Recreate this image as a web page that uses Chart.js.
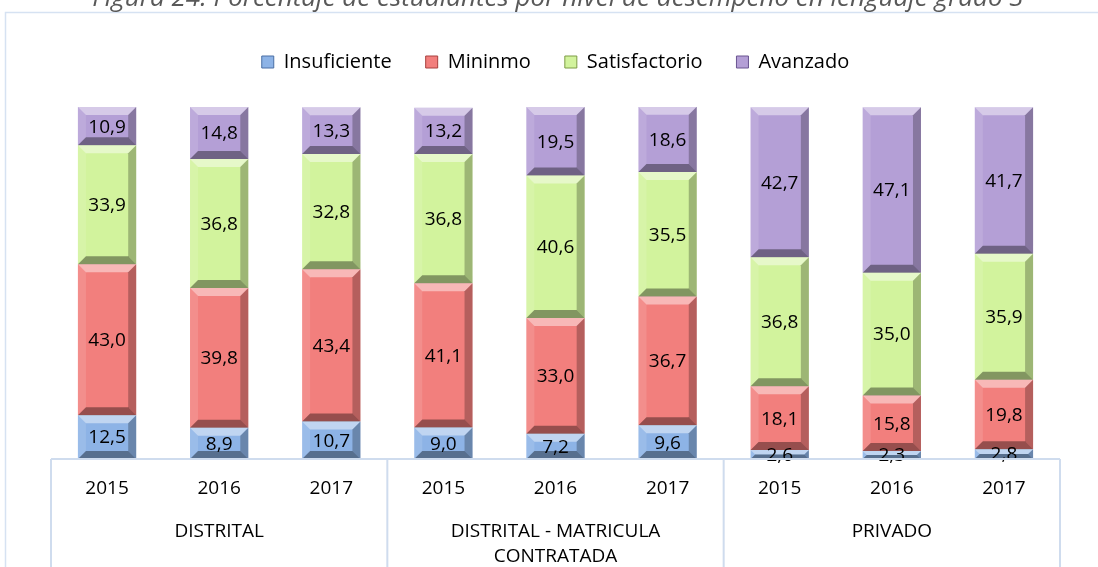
<!DOCTYPE html>
<html>
<head>
<meta charset="utf-8">
<title>Figura 24</title>
<script src="https://cdn.jsdelivr.net/npm/chart.js@4/dist/chart.umd.min.js"></script>
<style>
  html, body { margin: 0; padding: 0; background: #ffffff; }
  #chartBox { width: 1098px; height: 567px; position: relative; }
</style>
</head>
<body>
<div id="chartBox"><canvas id="myChart"></canvas></div>
<script>
// data
const years = ["2015", "2016", "2017", "2015", "2016", "2017", "2015", "2016", "2017"];
const groups = ["DISTRITAL", "DISTRITAL - MATRICULA\nCONTRATADA", "PRIVADO"];
const insuficiente = [12.5, 8.9, 10.7, 9.0, 7.2, 9.6, 2.6, 2.3, 2.8];
const minimo = [43.0, 39.8, 43.4, 41.1, 33.0, 36.7, 18.1, 15.8, 19.8];
const satisfactorio = [33.9, 36.8, 32.8, 36.8, 40.6, 35.5, 36.8, 35.0, 35.9];
const avanzado = [10.9, 14.8, 13.3, 13.2, 19.5, 18.6, 42.7, 47.1, 41.7];

const titleText = "Figura 24. Porcentaje de estudiantes por nivel de desempeño en lenguaje grado 3";
const FONT = "'Open Sans', sans-serif";
const lineBlue = "#cfdcee";

// extra gap below the legend
const legendGap = {
  id: "legendGap",
  beforeInit(chart) {
    const fit = chart.legend.fit;
    chart.legend.fit = function () {
      fit.bind(chart.legend)();
      this.height += 25;
    };
  }
};

// frame, title and the two-level category table
const frameAndAxis = {
  id: "frameAndAxis",
  beforeDraw(chart) {
    const ctx = chart.ctx;
    ctx.save();
    ctx.strokeStyle = "#d6e2f2";
    ctx.lineWidth = 1.5;
    ctx.strokeRect(5.5, 12.5, 1200, 700);
    ctx.fillStyle = "#595959";
    ctx.font = "italic 26px " + FONT;
    ctx.textAlign = "center";
    ctx.textBaseline = "alphabetic";
    ctx.fillText(titleText, 558, 6);
    ctx.restore();
  },
  afterDraw(chart) {
    const ctx = chart.ctx;
    const x = chart.scales.x;
    const area = chart.chartArea;
    const step = x.getPixelForValue(1) - x.getPixelForValue(0);
    const left = x.getPixelForValue(0) - step / 2;
    ctx.save();
    ctx.strokeStyle = lineBlue;
    ctx.lineWidth = 2;
    ctx.beginPath();
    ctx.moveTo(left, area.bottom);
    ctx.lineTo(left + step * 9, area.bottom);
    for (let g = 0; g <= 3; g++) {
      const gx = left + step * 3 * g;
      ctx.moveTo(gx, area.bottom);
      ctx.lineTo(gx, chart.height + 5);
    }
    ctx.stroke();

    ctx.fillStyle = "#000000";
    ctx.font = "19px " + FONT;
    ctx.textAlign = "center";
    ctx.textBaseline = "middle";
    years.forEach((y, i) => {
      ctx.fillText(y, x.getPixelForValue(i), area.bottom + 30);
    });
    groups.forEach((g, i) => {
      const cx = x.getPixelForValue(i * 3 + 1);
      g.split("\n").forEach((line, k) => {
        ctx.fillText(line, cx, area.bottom + 73 + k * 25);
      });
    });
    ctx.restore();
  }
};

// bevel look on each bar segment plus value labels
const bevelBars = {
  id: "bevelBars",
  afterDatasetsDraw(chart) {
    const ctx = chart.ctx;
    ctx.save();
    chart.data.datasets.forEach((ds, di) => {
      const meta = chart.getDatasetMeta(di);
      meta.data.forEach((bar) => {
        const l = bar.x - bar.width / 2;
        const r = bar.x + bar.width / 2;
        const t = Math.min(bar.y, bar.base);
        const b = Math.max(bar.y, bar.base);
        const bv = Math.min(8, (b - t) / 2);
        const shade = (pts, color) => {
          ctx.beginPath();
          ctx.moveTo(pts[0][0], pts[0][1]);
          for (let p = 1; p < pts.length; p++) ctx.lineTo(pts[p][0], pts[p][1]);
          ctx.closePath();
          ctx.fillStyle = color;
          ctx.fill();
        };
        shade([[l, t], [r, t], [r - bv, t + bv], [l + bv, t + bv]], "rgba(255,255,255,0.45)");
        shade([[l, t], [l + bv, t + bv], [l + bv, b - bv], [l, b]], "rgba(255,255,255,0.12)");
        shade([[r, t], [r - bv, t + bv], [r - bv, b - bv], [r, b]], "rgba(0,0,0,0.25)");
        shade([[l, b], [l + bv, b - bv], [r - bv, b - bv], [r, b]], "rgba(0,0,0,0.38)");
      });
    });
    ctx.fillStyle = "#000000";
    ctx.font = "19px " + FONT;
    ctx.textAlign = "center";
    ctx.textBaseline = "middle";
    chart.data.datasets.forEach((ds, di) => {
      const meta = chart.getDatasetMeta(di);
      meta.data.forEach((bar, i) => {
        const label = ds.data[i].toFixed(1).replace(".", ",");
        ctx.fillText(label, bar.x, (bar.y + bar.base) / 2 + 1);
      });
    });
    ctx.restore();
  }
};

const ctx = document.getElementById("myChart").getContext("2d");
new Chart(ctx, {
  type: "bar",
  data: {
    labels: years,
    datasets: [
      { label: "Insuficiente", data: insuficiente, backgroundColor: "#8db3e6", borderColor: "#4a6fa5" },
      { label: "Mininmo", data: minimo, backgroundColor: "#f27f7d", borderColor: "#a8403e" },
      { label: "Satisfactorio", data: satisfactorio, backgroundColor: "#d2f39d", borderColor: "#7d9c45" },
      { label: "Avanzado", data: avanzado, backgroundColor: "#b49fd6", borderColor: "#6a5591" }
    ]
  },
  options: {
    responsive: true,
    maintainAspectRatio: false,
    animation: false,
    layout: { padding: { left: 51, right: 38, top: 18, bottom: 108 } },
    datasets: {
      bar: { categoryPercentage: 1.0, barPercentage: 0.52, borderWidth: 0 }
    },
    scales: {
      x: { stacked: true, display: false },
      y: { stacked: true, display: false, min: 0, max: 100.3 }
    },
    plugins: {
      title: { display: false },
      tooltip: { enabled: false },
      legend: {
        position: "top",
        labels: {
          boxWidth: 12,
          boxHeight: 12,
          padding: 34,
          color: "#000000",
          font: { family: FONT, size: 20 },
          generateLabels(chart) {
            return chart.data.datasets.map((ds, i) => ({
              text: ds.label,
              fillStyle: ds.backgroundColor,
              strokeStyle: ds.borderColor,
              lineWidth: 1,
              datasetIndex: i
            }));
          }
        }
      }
    }
  },
  plugins: [legendGap, frameAndAxis, bevelBars]
});
</script>
</body>
</html>
